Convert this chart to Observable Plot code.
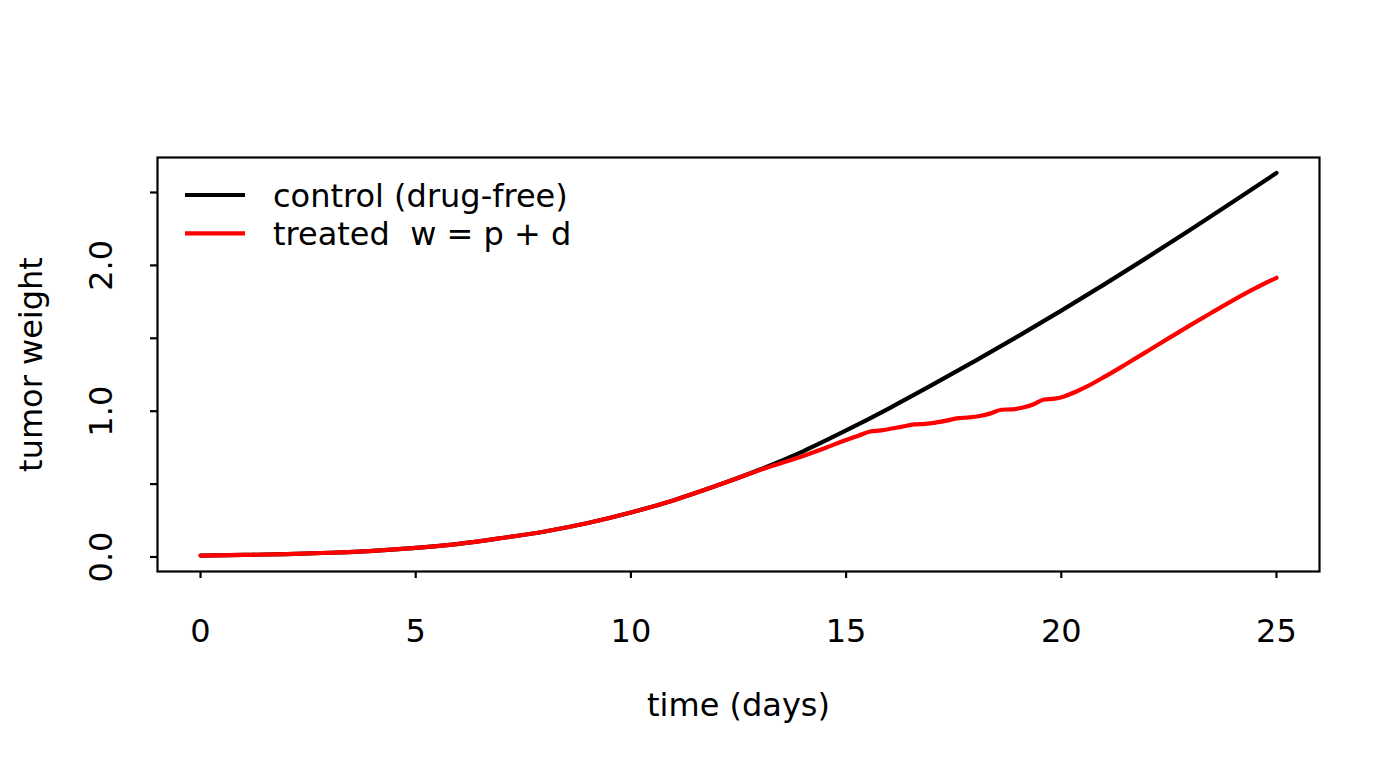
<!DOCTYPE html>
<html>
<head>
<meta charset="utf-8">
<script src="https://cdn.jsdelivr.net/npm/d3@7"></script>
<script src="https://cdn.jsdelivr.net/npm/@observablehq/plot@0.6"></script>
<style>
  html, body { margin: 0; padding: 0; background: #fff; }
  #chart { width: 1400px; height: 768px; }
  svg { font-family: "DejaVu Sans", sans-serif; }
</style>
</head>
<body>
<div id="chart"></div>
<script>
// ---- data ----
const controlTime = [0,1,2,3,4,5,6,7,8,9,10,11,12,13,14,15,16,17,18,19,20,21,22,23,24,25];
const controlWeight = [0.010,0.014,0.020,0.029,0.042,0.062,0.090,0.130,0.175,0.233,0.305,0.390,0.490,0.600,0.725,0.868,1.020,1.180,1.345,1.515,1.690,1.870,2.055,2.245,2.438,2.634];

const treatedTime = [0,1,2,3,4,5,6,7,8,9,10,11,12,12.5,13,13.5,14,14.5,15,15.3,
  15.56,15.81,16.06,16.31,16.58,16.83,17.08,17.33,17.61,17.86,18.11,18.36,18.61,18.86,19.11,19.36,19.6,
  19.85,20.1,20.35,20.6,21,21.5,22,22.5,23,23.5,24,24.5,25];
const treatedWeight = [0.010,0.014,0.020,0.029,0.042,0.062,0.090,0.130,0.175,0.233,0.305,0.390,0.490,0.543,0.597,0.645,0.693,0.746,0.803,0.834,
  0.861,0.868,0.881,0.894,0.909,0.913,0.922,0.935,0.952,0.957,0.967,0.985,1.010,1.013,1.025,1.048,1.080,
  1.086,1.105,1.135,1.170,1.235,1.322,1.411,1.501,1.590,1.677,1.762,1.842,1.915];

const seriesNames = ["control (drug-free)", "treated  w = p + d"];
const seriesColors = ["#000000", "#ff0000"];

const xTicks = [0,5,10,15,20,25];
const yTicks = [0,0.5,1,1.5,2,2.5];
const yLabelValues = [0,1,2];
const yLabels = ["0.0","1.0","2.0"];
const xTitle = "time (days)";
const yTitle = "tumor weight";

const control = controlTime.map((t,i) => ({t, w: controlWeight[i]}));
const treated = treatedTime.map((t,i) => ({t, w: treatedWeight[i]}));

const FS = 32;
const LW = 4.2;

const plot = Plot.plot({
  width: 1400,
  height: 768,
  marginLeft: 157,
  marginRight: 81,
  marginTop: 157,
  marginBottom: 197,
  style: {fontFamily: '"DejaVu Sans", sans-serif', background: "#fff", color: "#000"},
  x: {domain: [-1, 26], label: null},
  y: {domain: [-0.0995, 2.74], label: null},
  marks: [
    Plot.axisX({ticks: xTicks, tickSize: 7, tickPadding: 40.3, fontSize: FS, strokeWidth: 2.2, tickFormat: d => String(d), label: null}),
    Plot.axisY({ticks: yTicks, tickSize: 7, strokeWidth: 2.2, tickFormat: () => "", label: null}),
    Plot.text(yLabelValues, {y: d => d, text: (d, i) => yLabels[i], frameAnchor: "left", dx: -55.5, rotate: -90, fontSize: FS, lineAnchor: "middle", textAnchor: "middle"}),
    Plot.text([yTitle], {text: d => d, frameAnchor: "left", dx: -125.5, rotate: -90, fontSize: FS, lineAnchor: "middle", textAnchor: "middle"}),
    Plot.text([xTitle], {text: d => d, frameAnchor: "bottom", dy: 133.8, fontSize: FS, lineAnchor: "middle", textAnchor: "middle"}),
    Plot.line(control, {x: "t", y: "w", stroke: seriesColors[0], strokeWidth: LW, curve: "monotone-x"}),
    Plot.line(treated, {x: "t", y: "w", stroke: seriesColors[1], strokeWidth: LW, curve: "monotone-x"}),
    Plot.frame({stroke: "#000", strokeWidth: 2.2})
  ]
});

// legend inside the plot, top-left (as in the reference)
const svg = d3.select(plot);
const lg = svg.append("g")
  .attr("font-family", '"DejaVu Sans", sans-serif')
  .attr("font-size", FS)
  .attr("text-anchor", "start");
const rowY = [195, 233.3];
seriesNames.forEach((name, i) => {
  lg.append("line").attr("x1", 185).attr("x2", 245).attr("y1", rowY[i]).attr("y2", rowY[i])
    .attr("stroke", seriesColors[i]).attr("stroke-width", LW);
  lg.append("text").attr("x", 273).attr("y", rowY[i] + 11.5).attr("fill", "#000")
    .attr("text-anchor", "start")
    .attr("xml:space", "preserve").style("white-space", "pre").text(name);
});

document.getElementById("chart").appendChild(plot);
</script>
</body>
</html>
